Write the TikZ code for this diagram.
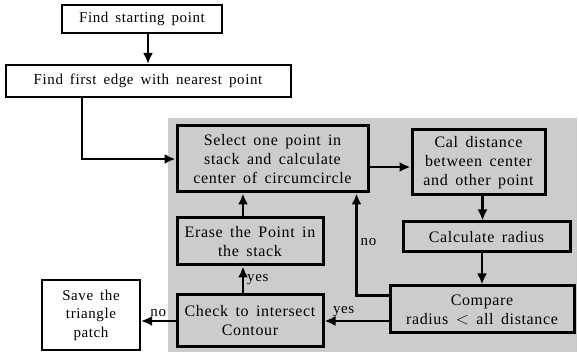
\documentclass[tikz,border=0pt]{standalone}
\usepackage{fontspec}
\setmainfont[LetterSpace=4,WordSpace=1.6]{Liberation Serif}
\usetikzlibrary{arrows.meta,positioning}
\begin{document}
\begin{tikzpicture}[
  x=1pt, y=-1pt,
  >=Latex,
  box/.style={draw=black, line width=2pt, fill=white, align=center,
    inner sep=2pt, font=\fontsize{15}{18.5}\selectfont},
  gbox/.style={draw=black, line width=3pt, align=center,
    inner sep=2pt, font=\fontsize{16}{19}\selectfont},
  arr/.style={-{Latex[length=11pt,width=10pt]}, line width=2.4pt},
  lbl/.style={font=\fontsize{15}{17}\selectfont, inner sep=3pt}
]
\useasboundingbox (0,0) rectangle (579,355);

% gray loop area
\fill[black!20] (168,118) rectangle (577,352);

% outside boxes
\node[box, minimum width=160pt, minimum height=28pt] (start) at (142,19) {Find starting point};
\node[box, minimum width=285pt, minimum height=32pt] (edge) at (148,81) {Find first edge with nearest point};
\node[box, minimum width=98pt, minimum height=70pt] (save) at (91,315) {Save the\\triangle\\patch};

% loop boxes
\node[gbox, minimum width=191pt, minimum height=66pt] (select) at (272.5,159)
  {Select one point in\\stack and calculate\\center of circumcircle};
\node[gbox, minimum width=133pt, minimum height=65pt] (cal) at (478.5,162.5)
  {Cal distance\\between center\\and other point};
\node[gbox, minimum width=167pt, minimum height=30pt] (radius) at (486.5,237) {Calculate radius};
\node[gbox, minimum width=184pt, minimum height=47pt] (compare) at (482,309.5)
  {Compare\\radius $<$ all distance};
\node[gbox, minimum width=146pt, minimum height=47pt] (erase) at (250,241.5)
  {Erase the Point in\\the stack};
\node[gbox, minimum width=146pt, minimum height=52pt] (check) at (250,321)
  {Check to intersect\\Contour};

% connectors
\draw[arr] (start.south -| edge.north) -- (edge.north);
\draw[arr] ([xshift=-66pt]edge.south) |- (select.west);
\draw[arr] ([yshift=-8pt]select.east) -- ([yshift=-8pt]select.east -| cal.west);
\draw[arr] ([xshift=4pt]cal.south) -- ([xshift=4pt]cal.south |- radius.north);
\draw[arr] (radius.south -| compare.north) -- (compare.north);
\draw[arr] ([yshift=14pt]compare.west) -| ([xshift=84pt]select.south)
  node[lbl, pos=0.76, right]{no};
\draw[arr] (compare.west |- check.east) -- (check.east) node[lbl, pos=0.7, above]{yes};
\draw[arr] ([xshift=-7pt]check.north) -- ([xshift=-7pt]erase.south) node[lbl, midway, right]{yes};
\draw[arr] ([xshift=-7pt]erase.north) -- ([xshift=-7pt]erase.north |- select.south);
\draw[arr] (check.west) -- (check.west -| save.east) node[lbl, midway, above]{no};
\end{tikzpicture}
\end{document}
